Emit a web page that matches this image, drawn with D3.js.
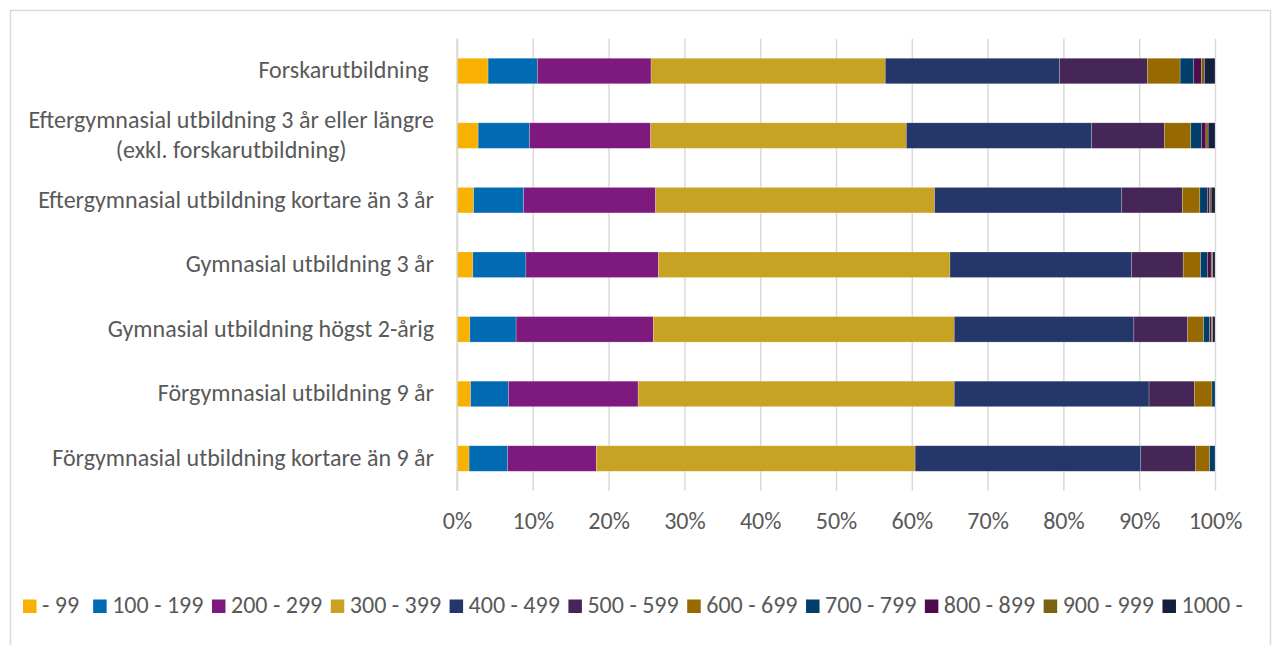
<!DOCTYPE html>
<html>
<head>
<meta charset="utf-8">
<script src="https://cdn.jsdelivr.net/npm/d3@7/dist/d3.min.js"></script>
<style>
  html, body { margin: 0; padding: 0; background: #fff; }
  svg text { font-family: Carlito, Calibri, Lato, sans-serif; fill: #595959; white-space: pre; }
</style>
</head>
<body>
<svg id="chart" width="1275" height="645"></svg>
<script>
// ---- Data ----
const categories = [
  "Forskarutbildning ",
  "Eftergymnasial utbildning 3 år eller längre|(exkl. forskarutbildning)",
  "Eftergymnasial utbildning kortare än 3 år",
  "Gymnasial utbildning 3 år",
  "Gymnasial utbildning högst 2-årig",
  "Förgymnasial utbildning 9 år",
  "Förgymnasial utbildning kortare än 9 år"
];
const seriesNames = ["- 99", "100 - 199", "200 - 299", "300 - 399", "400 - 499", "500 - 599",
                     "600 - 699", "700 - 799", "800 - 899", "900 - 999", "1000 -"];
const s_0_99      = [4.1, 2.8, 2.2, 2.1, 1.7, 1.8, 1.6];
const s_100_199   = [6.5, 6.8, 6.6, 7.0, 6.1, 5.0, 5.1];
const s_200_299   = [15.0, 16.0, 17.4, 17.5, 18.1, 17.1, 11.7];
const s_300_399   = [30.9, 33.8, 36.8, 38.5, 39.7, 41.7, 42.1];
const s_400_499   = [23.0, 24.5, 24.7, 24.0, 23.7, 25.7, 29.8];
const s_500_599   = [11.6, 9.6, 8.0, 6.8, 7.1, 6.0, 7.2];
const s_600_699   = [4.3, 3.5, 2.3, 2.3, 2.1, 2.3, 1.9];
const s_700_799   = [1.8, 1.4, 1.0, 0.9, 0.8, 0.4, 0.7];
const s_800_899   = [1.0, 0.6, 0.3, 0.5, 0.2, 0.0, 0.0];
const s_900_999   = [0.4, 0.3, 0.2, 0.2, 0.2, 0.0, 0.0];
const s_1000      = [1.4, 0.9, 0.5, 0.3, 0.3, 0.0, 0.0];
const xTicks = [0, 0.1, 0.2, 0.3, 0.4, 0.5, 0.6, 0.7, 0.8, 0.9, 1.0];
const colors = ["#F8B100", "#006AB2", "#7E1A7E", "#C8A222", "#25366A", "#452657",
                "#966A00", "#003F6B", "#4F0C4B", "#7A6114", "#171F41"];

const seriesValues = [s_0_99, s_100_199, s_200_299, s_300_399, s_400_499, s_500_599,
                      s_600_699, s_700_799, s_800_899, s_900_999, s_1000];

const table = categories.map((c, i) => {
  const row = { cat: c };
  seriesNames.forEach((s, j) => row[s] = seriesValues[j][i]);
  return row;
});

(function () {
const svg = d3.select("#chart");

svg.append("rect").attr("x", 10.5).attr("y", 10.5).attr("width", 1260).attr("height", 700)
  .attr("fill", "none").attr("stroke", "#d9d9d9").attr("stroke-width", 1.5);

const probe = svg.append("text").attr("font-size", 20).text("Förgymnasial utbildning kortare än 9 år");
const fs = 20 * 382 / probe.node().getComputedTextLength();
probe.remove();

const pLeft = 457, pRight = 1215, pTop = 38.7, pBottom = 490.8;
const x = d3.scaleLinear().domain([0, 1]).range([pLeft, pRight]);
const y = d3.scaleBand().domain(categories).range([pTop, pBottom]).paddingInner(0.605).paddingOuter(0.3025);

// gridlines
svg.append("g").attr("transform", `translate(0,${pBottom})`)
  .call(d3.axisBottom(x).tickValues(xTicks).tickSize(-(pBottom - pTop)).tickFormat(""))
  .call(g => g.select(".domain").remove())
  .call(g => g.selectAll("line").attr("stroke", "#d9d9d9").attr("stroke-width", 1.5));

// stacked bars
const stack = d3.stack().keys(seriesNames).offset(d3.stackOffsetExpand);
const layers = stack(table);
svg.append("g").selectAll("g").data(layers).join("g")
  .attr("fill", (d, i) => colors[i])
  .selectAll("rect").data(d => d).join("rect")
  .attr("x", d => x(d[0]))
  .attr("y", d => y(d.data.cat))
  .attr("width", d => Math.max(0, x(d[1]) - x(d[0])))
  .attr("height", y.bandwidth())
  .attr("stroke", "#ffffff").attr("stroke-opacity", 0.35).attr("stroke-width", 0.6);

// x axis labels
svg.append("g").attr("transform", `translate(0,${pBottom})`)
  .call(d3.axisBottom(x).tickValues(xTicks).tickSize(0).tickFormat(d3.format(".0%")))
  .call(g => g.select(".domain").remove())
  .call(g => g.selectAll("text").attr("font-size", fs).attr("dy", null).attr("y", 38.7)
           .attr("fill", "#595959").style("font-family", "Carlito, Calibri, Lato, sans-serif"));

// left axis line
svg.append("line").attr("x1", pLeft).attr("x2", pLeft).attr("y1", pTop).attr("y2", pBottom)
  .attr("stroke", "#d9d9d9").attr("stroke-width", 1.5);

// category labels
const labelX = 434;
const lineGap = fs * 1.22;
categories.forEach(c => {
  const cy = y(c) + y.bandwidth() / 2;
  const lines = c.split("|");
  if (lines.length === 1) {
    svg.append("text").attr("font-size", fs)
      .attr("x", labelX).attr("y", cy + 7.5).attr("text-anchor", "end").text(c);
  } else {
    const tmp = svg.append("text").attr("font-size", fs).text(lines[0]);
    const w = tmp.node().getComputedTextLength();
    tmp.remove();
    const mid = labelX - w / 2;
    lines.forEach((ln, k) => {
      svg.append("text").attr("font-size", fs).attr("text-anchor", "middle")
        .attr("x", mid).attr("y", cy + 7.5 - lineGap / 2 + lineGap * k).text(ln);
    });
  }
});

// legend
const lg = svg.append("g");
let lx = 23;
seriesNames.forEach((s, i) => {
  lg.append("rect").attr("x", lx).attr("y", 599.5).attr("width", 13.5).attr("height", 13.5).attr("fill", colors[i]);
  const t = lg.append("text").attr("x", lx + 19).attr("y", 613.3).attr("font-size", fs).text(s);
  lx = lx + 19 + t.node().getComputedTextLength() + (i === 0 ? 14 : 8.5);
});
})();
</script>
</body>
</html>
